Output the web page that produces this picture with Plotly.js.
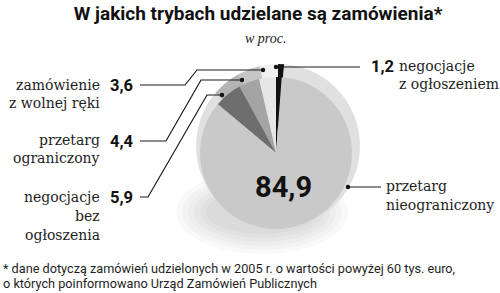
<!DOCTYPE html>
<html>
<head>
<meta charset="utf-8">
<script src="https://cdn.plot.ly/plotly-3.0.1.min.js"></script>
<style>html,body{margin:0;padding:0;background:#fff}#chart{width:500px;height:293px}</style>
</head>
<body>
<div id="chart"></div>
<script>
// ---- data ----
const categories = ['negocjacje z ogłoszeniem', 'zamówienie z wolnej ręki', 'przetarg ograniczony', 'negocjacje bez ogłoszenia', 'przetarg nieograniczony'];
const values = [1.2, 3.6, 4.4, 5.9, 84.9];
const labelLines = [
  ['negocjacje', 'z ogłoszeniem'],
  ['zamówienie', 'z wolnej ręki'],
  ['przetarg', 'ograniczony'],
  ['negocjacje', 'bez', 'ogłoszenia'],
  ['przetarg', 'nieograniczony']
];
const titleText = 'W jakich trybach udzielane są zamówienia*';
const subtitleText = 'w proc.';
const footnoteLines = [
  '* dane dotyczą zamówień udzielonych w 2005 r. o wartości powyżej 60 tys. euro,',
  'o których poinformowano Urząd Zamówień Publicznych'
];

// ---- styling / layout ----
const W = 500, H = 293;
const X = px => px / W;
const Y = py => 1 - py / H;
const topColors = ['#111111', '#f0f0f0', '#c6c6c6', '#b4b4b4', '#e0e0e0'];
const mainColors = ['#111111', '#e6e6e6', '#a4a4a4', '#6e6e6e', '#c9c9c9'];
const labelFont = {family: 'DejaVu Serif', size: 14, color: '#1e1e1e'};
const numFont = {family: 'Roboto', size: 16.5, color: '#111', weight: 700};

// label placement (pixels): number pos, text anchor side, text x, text line ys
const place = [
  {nx: 369, ny: 66, nAnchor: 'left', tx: 397, tAnchor: 'left', ty: [66, 84]},
  {nx: 108, ny: 85, nAnchor: 'left', tx: 102, tAnchor: 'right', ty: [85, 103]},
  {nx: 108, ny: 141, nAnchor: 'left', tx: 102, tAnchor: 'right', ty: [140, 158]},
  {nx: 108, ny: 197, nAnchor: 'left', tx: 102, tAnchor: 'right', ty: [197, 216, 235]},
  {nx: 283, ny: 187, nAnchor: 'center', tx: 384, tAnchor: 'left', ty: [186, 205], big: true}
];
// leader lines (pixels)
const leaders = [
  {pts: [[275, 67], [360, 67]], dot: [276, 67]},
  {pts: [[140, 85], [185, 85], [197, 70], [263, 70]], dot: [263, 70]},
  {pts: [[140, 141], [166, 141], [201, 80], [242, 80]], dot: [242, 80]},
  {pts: [[140, 197], [148, 197], [207, 95], [222, 95]], dot: [222, 95]},
  {pts: [[348, 187], [381, 187]], dot: [348, 187]}
];

function domainFor(cx, cy, r) {
  return {x: [X(cx - r), X(cx + r)], y: [Y(cy + r), Y(cy - r)]};
}

const common = {
  type: 'pie', labels: categories, values: values, sort: false,
  direction: 'counterclockwise', rotation: 0, textinfo: 'none',
  hoverinfo: 'label+value', showlegend: false
};
const traces = [
  Object.assign({}, common, {domain: domainFor(278, 146, 82), marker: {colors: topColors, line: {width: 0}}}),
  Object.assign({}, common, {domain: domainFor(276, 153, 76), marker: {colors: mainColors, line: {width: 0}}})
];

const annotations = [];
values.forEach((v, i) => {
  const p = place[i];
  annotations.push({
    xref: 'paper', yref: 'paper', x: X(p.nx), y: Y(p.ny), xanchor: p.nAnchor, yanchor: 'middle',
    text: '<b>' + v.toFixed(1).replace('.', ',') + '</b>', showarrow: false,
    font: p.big ? {family: 'Roboto', size: 29, color: '#111'} : numFont
  });
  labelLines[i].forEach((t, j) => {
    annotations.push({
      xref: 'paper', yref: 'paper', x: X(p.tx), y: Y(p.ty[j]), xanchor: p.tAnchor, yanchor: 'middle',
      text: t, showarrow: false, font: labelFont
    });
  });
});
annotations.push({
  xref: 'paper', yref: 'paper', x: X(265), y: Y(39), xanchor: 'center', yanchor: 'middle',
  text: '<i>' + subtitleText + '</i>', showarrow: false,
  font: {family: 'Liberation Serif', size: 14, color: '#222'}
});
footnoteLines.forEach((t, j) => {
  annotations.push({
    xref: 'paper', yref: 'paper', x: X(1), y: Y(268 + 15 * j), xanchor: 'left', yanchor: 'middle',
    text: t, showarrow: false, font: {family: 'Roboto', size: 12.7, color: '#1e1e1e'}
  });
});

const shapes = [];
// soft shadow
[[86, 42], [80, 38], [74, 34], [68, 30], [62, 26], [56, 22]].forEach(([rx, ry]) => {
  const cx = 262, cy = 212;
  shapes.push({type: 'circle', xref: 'paper', yref: 'paper', layer: 'below',
    x0: X(cx - rx), x1: X(cx + rx), y0: Y(cy + ry), y1: Y(cy - ry),
    fillcolor: '#000', opacity: 0.025, line: {width: 0}});
});
leaders.forEach(l => {
  const d = l.pts.map((p, k) => (k ? 'L' : 'M') + X(p[0]) + ',' + Y(p[1])).join(' ');
  shapes.push({type: 'path', xref: 'paper', yref: 'paper', path: d, layer: 'above',
    line: {color: '#1a1a1a', width: 1.2}});
  const r = 2.2;
  shapes.push({type: 'circle', xref: 'paper', yref: 'paper', layer: 'above',
    x0: X(l.dot[0] - r), x1: X(l.dot[0] + r), y0: Y(l.dot[1] + r), y1: Y(l.dot[1] - r),
    fillcolor: '#111', line: {width: 0}});
});

const layout = {
  width: W, height: H, margin: {l: 0, r: 0, t: 0, b: 0},
  paper_bgcolor: '#fff', plot_bgcolor: '#fff',
  title: {text: '<b>' + titleText + '</b>', x: X(258), xanchor: 'center', y: Y(13), yanchor: 'middle',
    font: {family: 'Roboto', size: 19, color: '#111'}},
  annotations: annotations, shapes: shapes
};
Plotly.newPlot('chart', traces, layout, {staticPlot: true, displayModeBar: false});
</script>
</body>
</html>
